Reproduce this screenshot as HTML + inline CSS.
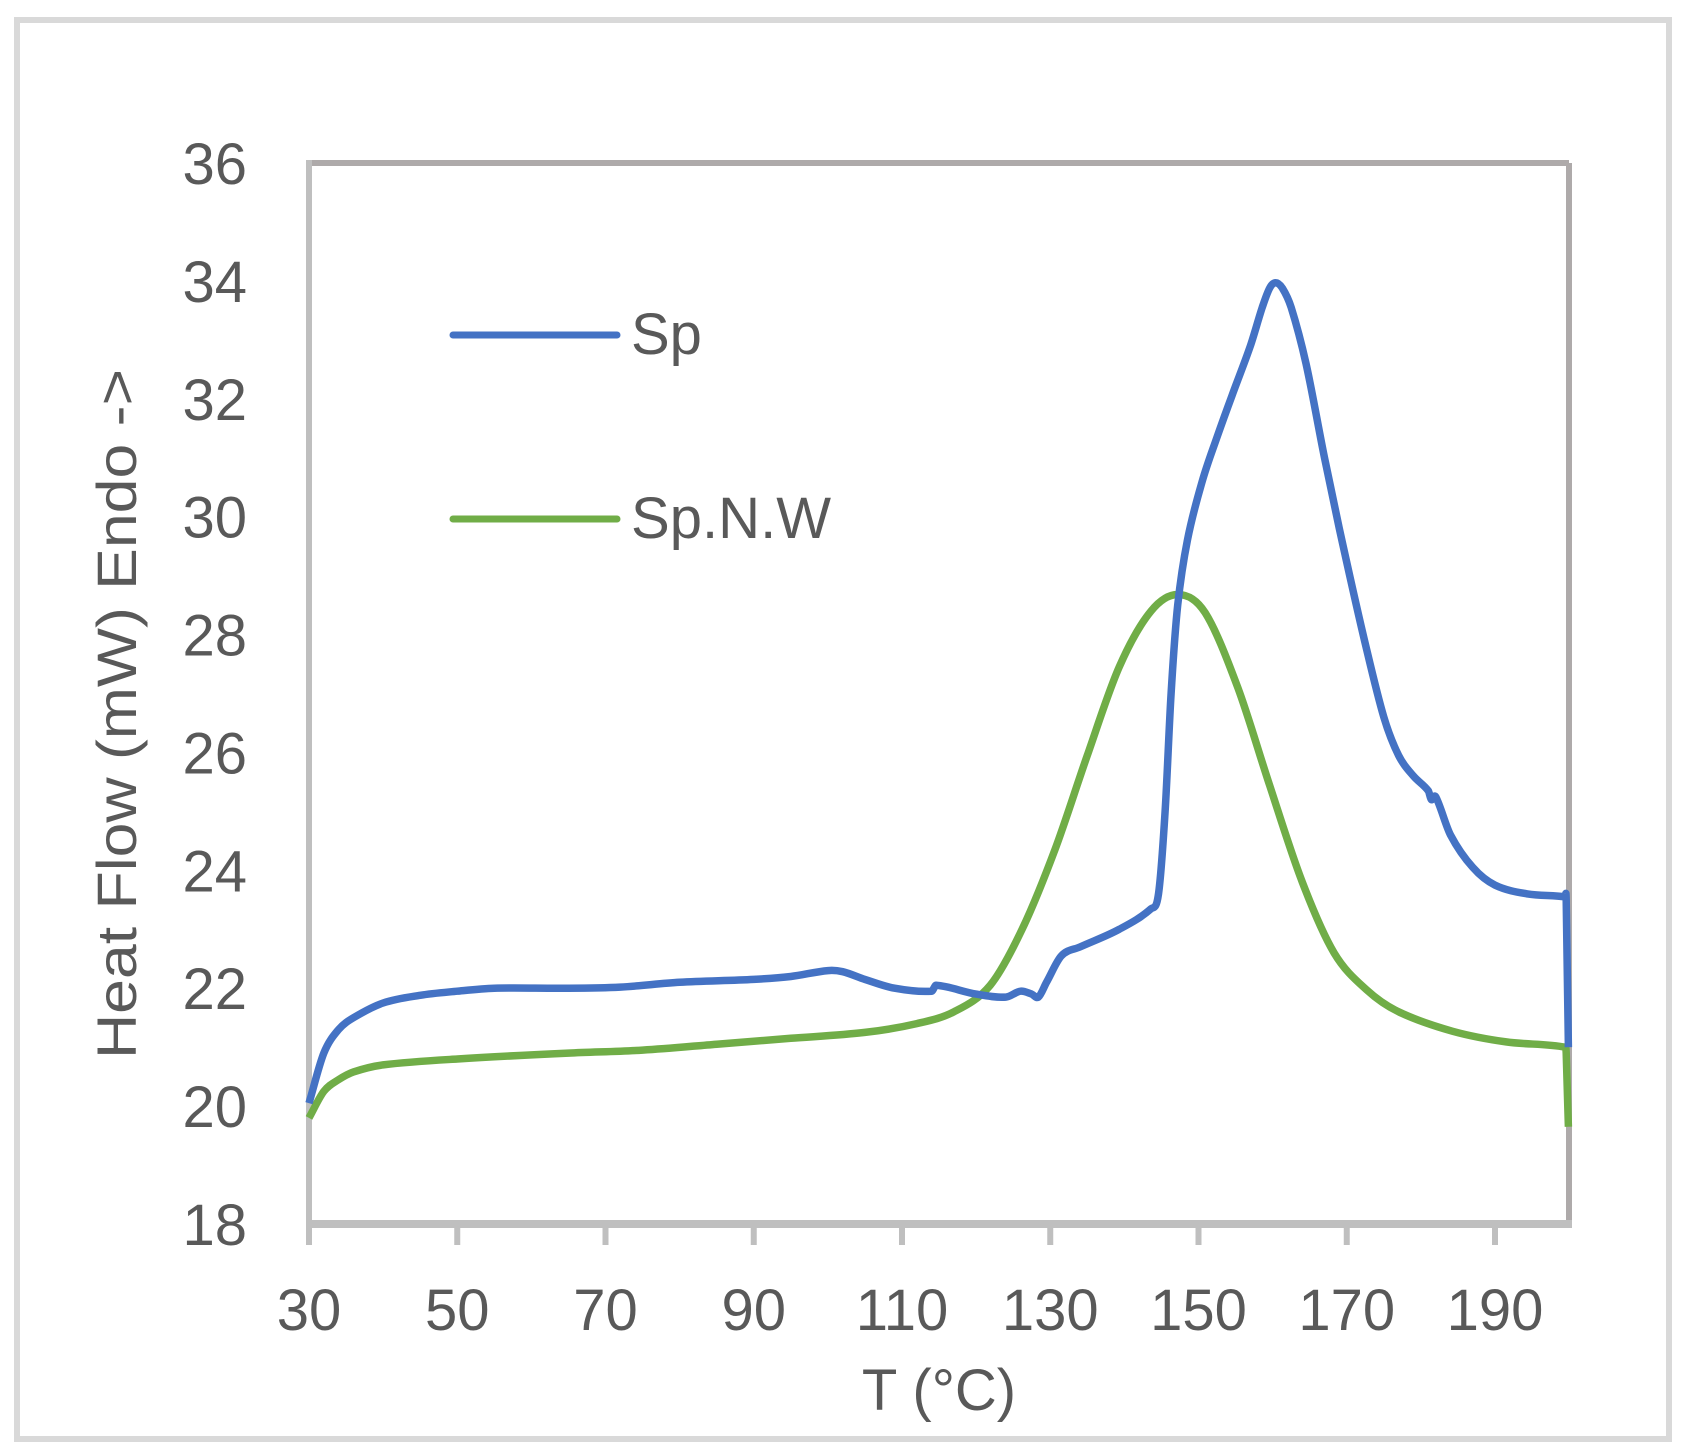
<!DOCTYPE html>
<html><head><meta charset="utf-8"><style>html,body{margin:0;padding:0;background:#fff}svg{display:block}</style></head>
<body>
<svg id="s" width="1689" height="1455" viewBox="0 0 1689 1455" xmlns="http://www.w3.org/2000/svg" font-family="'Liberation Sans', 'DejaVu Sans', sans-serif" fill="#595959">
<rect x="17" y="20" width="1652" height="1419" fill="#fff" stroke="#d9d9d9" stroke-width="6"/>
<line x1="309" y1="163" x2="1569" y2="163" stroke="#aeaaaa" stroke-width="6"/>
<line x1="1569" y1="163" x2="1569" y2="1224" stroke="#aeaaaa" stroke-width="6"/>
<line x1="309" y1="160" x2="309" y2="1245" stroke="#bfbfbf" stroke-width="6"/>
<line x1="306" y1="1224" x2="1572" y2="1224" stroke="#bfbfbf" stroke-width="8"/>
<g id="xt" stroke="#bfbfbf" stroke-width="6"></g>
<g id="xl" font-size="58" text-anchor="middle"></g>
<g id="yl" font-size="58" text-anchor="end"></g>
<text x="939" y="1410" font-size="58" text-anchor="middle">T (°C)</text>
<text transform="translate(136,714) rotate(-90)" font-size="56" text-anchor="middle" textLength="690" lengthAdjust="spacingAndGlyphs">Heat Flow (mW) Endo -&gt;</text>
<line x1="453" y1="335" x2="617" y2="335" stroke="#4472c4" stroke-width="7" stroke-linecap="round"/>
<text x="631" y="354" font-size="58">Sp</text>
<line x1="453" y1="519" x2="617" y2="519" stroke="#70ad47" stroke-width="7" stroke-linecap="round"/>
<text x="631" y="538" font-size="58" textLength="200" lengthAdjust="spacingAndGlyphs">Sp.N.W</text>
<path id="g" fill="none" stroke="#70ad47" stroke-width="7.5" stroke-linejoin="round"/>
<path id="b" fill="none" stroke="#4472c4" stroke-width="7.5" stroke-linejoin="round"/>
</svg>
<script>
var X=function(t){return 309+(t-30)*7.4125},Y=function(v){return 1224-(v-18)*58.94};
var ns="http://www.w3.org/2000/svg";
function el(p,n,a,t){var e=document.createElementNS(ns,n);for(var k in a)e.setAttribute(k,a[k]);if(t)e.textContent=t;document.getElementById(p).appendChild(e);}
for(var t=30;t<=190;t+=20){el("xt","line",{x1:X(t),y1:1224,x2:X(t),y2:1245});el("xl","text",{x:X(t),y:1330},String(t));}
for(var v=18;v<=36;v+=2){el("yl","text",{x:247,y:Y(v)+21},String(v));}
function path(d){var p=d.map(function(a){return [X(a[0]),Y(a[1])]});var n=p.length,m=[];
for(var i=0;i<n;i++){var a=p[Math.max(0,i-1)],b=p[Math.min(n-1,i+1)];m.push((b[1]-a[1])/(b[0]-a[0]));}
var s="M"+p[0][0].toFixed(1)+","+p[0][1].toFixed(1);
for(var i=0;i<n-1;i++){var dx=(p[i+1][0]-p[i][0])/3;
var m1=m[i],m2=m[i+1];
s+=" C"+(p[i][0]+dx).toFixed(1)+","+(p[i][1]+m1*dx).toFixed(1)+" "+(p[i+1][0]-dx).toFixed(1)+","+(p[i+1][1]-m2*dx).toFixed(1)+" "+p[i+1][0].toFixed(1)+","+p[i+1][1].toFixed(1);}
return s;}
var blue=[[30,20.05],[32,20.9],[34,21.3],[36,21.5],[40,21.75],[45,21.88],[50,21.95],[55,22.0],[65,22.0],[72,22.02],[80,22.1],[90,22.15],[95,22.2],[100,22.3],[102,22.28],[105,22.15],[109,22.0],[114,21.95],[114.6,22.05],[120,21.9],[124,21.85],[126,21.95],[127.5,21.9],[128.4,21.85],[129.5,22.1],[131.5,22.55],[134,22.7],[139.3,23.0],[143.6,23.35],[144.6,23.6],[145.5,25],[146.3,27],[147.2,28.5],[148.5,29.6],[150.5,30.6],[152.5,31.35],[154.5,32.05],[157,32.9],[158.6,33.55],[159.6,33.88],[160.4,33.97],[161.3,33.88],[162.5,33.55],[164.5,32.6],[167,31.0],[169,29.8],[172.4,27.9],[175,26.6],[177,25.95],[179,25.6],[181,25.35],[181.4,25.2],[182,25.25],[184,24.6],[187,24.05],[190,23.75],[194.4,23.6],[199.5,23.55],[199.6,23.5],[199.9,21]];
var green=[[30,19.8],[32,20.25],[34,20.45],[36,20.58],[40,20.7],[50,20.8],[65,20.9],[75,20.95],[85,21.05],[95,21.15],[105,21.25],[112,21.4],[117,21.6],[121.9,22.05],[126.2,23.0],[130.6,24.34],[135,25.95],[139.3,27.45],[143.6,28.4],[147.3,28.68],[150.9,28.37],[155.3,27.1],[159.6,25.44],[164,23.8],[168.3,22.6],[172.7,21.97],[177,21.6],[184.3,21.27],[191.5,21.09],[199.5,21.0],[199.6,20.9],[199.9,19.65]];
document.getElementById("b").setAttribute("d",path(blue));
document.getElementById("g").setAttribute("d",path(green));
</script>
</body></html>
